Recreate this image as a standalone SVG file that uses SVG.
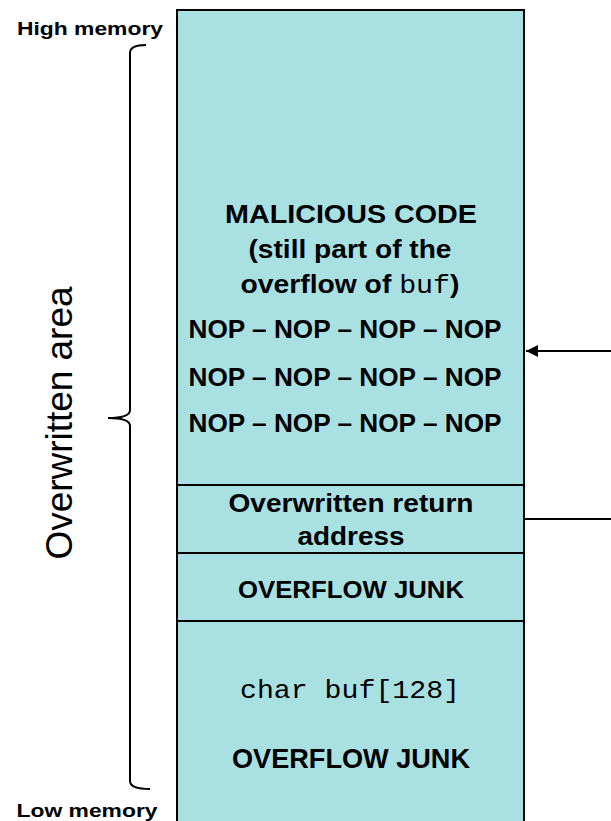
<svg xmlns="http://www.w3.org/2000/svg" width="611" height="821" viewBox="0 0 611 821">
<defs>
<style>
.lbl{font-family:"Liberation Sans",Arial,Helvetica,sans-serif;fill:#000}
.b{font-weight:bold}
.mono{font-family:"Liberation Mono","Courier New",monospace;font-weight:normal}
.seg{fill:#a9e1e3;stroke:#000;stroke-width:2}
.ln{stroke:#000;stroke-width:2;fill:none}
</style>
<marker id="ah" viewBox="0 0 10 10" refX="10" refY="5" markerWidth="15" markerHeight="12" markerUnits="userSpaceOnUse" orient="auto">
<path d="M0,0 L10,5 L0,10 z" fill="#000"/>
</marker>
</defs>
<rect width="611" height="821" fill="#fff"/>

<g id="labels">
<text class="lbl b" x="90" y="35" font-size="18" text-anchor="middle" textLength="146" lengthAdjust="spacingAndGlyphs">High memory</text>
<text class="lbl b" x="87" y="817" font-size="18" text-anchor="middle" textLength="141" lengthAdjust="spacingAndGlyphs">Low memory</text>
<text class="lbl" transform="translate(72,423) rotate(-90)" x="0" y="0" font-size="36" text-anchor="middle" textLength="273" lengthAdjust="spacingAndGlyphs">Overwritten area</text>
</g>

<g id="brace">
<path class="ln" stroke-width="2.5" d="M146 45 Q130 45 130 53 L130 410 Q130 418 108 418 Q130 418 130 426 L130 781 Q130 789 150 789"/>
</g>

<g id="malicious-code">
<rect class="seg" x="177" y="10" width="347" height="475"/>
<text class="lbl b" x="351" y="223" font-size="25" text-anchor="middle" textLength="252" lengthAdjust="spacingAndGlyphs">MALICIOUS CODE</text>
<text class="lbl b" x="350" y="258" font-size="25" text-anchor="middle" textLength="203" lengthAdjust="spacingAndGlyphs">(still part of the</text>
<text class="lbl b" x="350" y="293" font-size="25" text-anchor="middle" textLength="219" lengthAdjust="spacingAndGlyphs">overflow of <tspan class="mono">buf</tspan>)</text>
<text class="lbl b" x="345" y="338" font-size="25" text-anchor="middle" textLength="313" lengthAdjust="spacingAndGlyphs">NOP – NOP – NOP – NOP</text>
<text class="lbl b" x="345" y="386" font-size="25" text-anchor="middle" textLength="313" lengthAdjust="spacingAndGlyphs">NOP – NOP – NOP – NOP</text>
<text class="lbl b" x="345" y="432" font-size="25" text-anchor="middle" textLength="313" lengthAdjust="spacingAndGlyphs">NOP – NOP – NOP – NOP</text>
</g>

<g id="return-address">
<rect class="seg" x="177" y="485" width="347" height="68"/>
<text class="lbl b" x="351" y="512" font-size="26" text-anchor="middle" textLength="245" lengthAdjust="spacingAndGlyphs">Overwritten return</text>
<text class="lbl b" x="351" y="545" font-size="26" text-anchor="middle" textLength="107" lengthAdjust="spacingAndGlyphs">address</text>
</g>

<g id="overflow-junk">
<rect class="seg" x="177" y="553" width="347" height="68"/>
<text class="lbl b" x="351" y="598" font-size="23" text-anchor="middle" textLength="226" lengthAdjust="spacingAndGlyphs">OVERFLOW JUNK</text>
</g>

<g id="buf">
<rect class="seg" x="177" y="621" width="347" height="210"/>
<text class="lbl mono" x="350" y="698" font-size="26" text-anchor="middle" textLength="220" lengthAdjust="spacingAndGlyphs">char buf[128]</text>
<text class="lbl b" x="351" y="768" font-size="28" text-anchor="middle" textLength="238" lengthAdjust="spacingAndGlyphs">OVERFLOW JUNK</text>
</g>

<g id="connectors">
<line class="ln" x1="611" y1="351" x2="526" y2="351" marker-end="url(#ah)"/>
<line class="ln" x1="524" y1="519" x2="611" y2="519"/>
</g>
</svg>
